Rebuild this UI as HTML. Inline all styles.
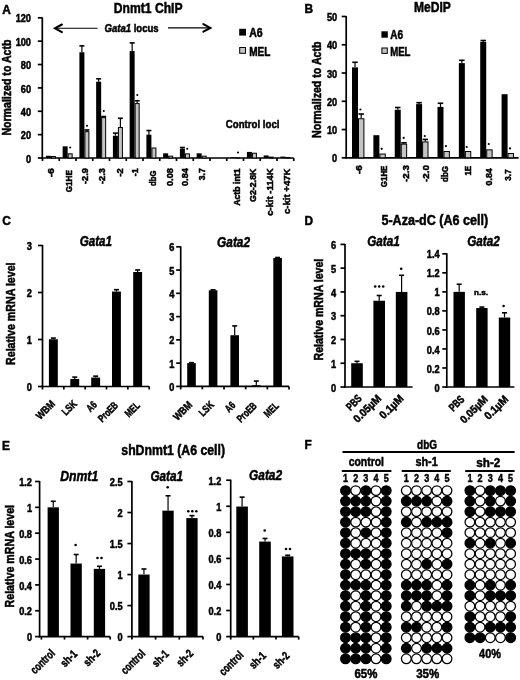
<!DOCTYPE html>
<html><head><meta charset="utf-8"><style>
html,body{margin:0;padding:0;background:#fff;}
body{width:520px;height:680px;overflow:hidden;}
svg{display:block;}
text{font-family:"Liberation Sans",sans-serif;font-weight:bold;stroke:#000;stroke-width:0.5px;}
svg{filter:grayscale(1);}
</style></head><body>
<svg width="520" height="680" viewBox="0 0 520 680">
<rect width="520" height="680" fill="#fff"/>
<text x="2.30" y="13.80" font-size="12.5" text-anchor="start" textLength="8.58" lengthAdjust="spacingAndGlyphs" style="" fill="#000">A</text>
<text x="304.60" y="12.70" font-size="12.5" text-anchor="start" textLength="8.58" lengthAdjust="spacingAndGlyphs" style="" fill="#000">B</text>
<text x="2.30" y="225.20" font-size="12.5" text-anchor="start" textLength="8.58" lengthAdjust="spacingAndGlyphs" style="" fill="#000">C</text>
<text x="304.60" y="225.00" font-size="12.5" text-anchor="start" textLength="8.58" lengthAdjust="spacingAndGlyphs" style="" fill="#000">D</text>
<text x="2.00" y="450.00" font-size="12.5" text-anchor="start" textLength="7.92" lengthAdjust="spacingAndGlyphs" style="" fill="#000">E</text>
<text x="304.60" y="449.20" font-size="12.5" text-anchor="start" textLength="7.25" lengthAdjust="spacingAndGlyphs" style="" fill="#000">F</text>
<line x1="42.30" y1="17.30" x2="42.30" y2="158.70" stroke="#000" stroke-width="1.7"/>
<line x1="37.80" y1="158.00" x2="42.30" y2="158.00" stroke="#000" stroke-width="1.7"/>
<text x="31.00" y="162.60" font-size="10.0" text-anchor="end" textLength="5.12" lengthAdjust="spacingAndGlyphs" style="" fill="#000">0</text>
<line x1="37.80" y1="134.63" x2="42.30" y2="134.63" stroke="#000" stroke-width="1.7"/>
<text x="31.00" y="139.23" font-size="10.0" text-anchor="end" textLength="10.23" lengthAdjust="spacingAndGlyphs" style="" fill="#000">20</text>
<line x1="37.80" y1="111.27" x2="42.30" y2="111.27" stroke="#000" stroke-width="1.7"/>
<text x="31.00" y="115.87" font-size="10.0" text-anchor="end" textLength="10.23" lengthAdjust="spacingAndGlyphs" style="" fill="#000">40</text>
<line x1="37.80" y1="87.90" x2="42.30" y2="87.90" stroke="#000" stroke-width="1.7"/>
<text x="31.00" y="92.50" font-size="10.0" text-anchor="end" textLength="10.23" lengthAdjust="spacingAndGlyphs" style="" fill="#000">60</text>
<line x1="37.80" y1="64.53" x2="42.30" y2="64.53" stroke="#000" stroke-width="1.7"/>
<text x="31.00" y="69.13" font-size="10.0" text-anchor="end" textLength="10.23" lengthAdjust="spacingAndGlyphs" style="" fill="#000">80</text>
<line x1="37.80" y1="41.17" x2="42.30" y2="41.17" stroke="#000" stroke-width="1.7"/>
<text x="31.00" y="45.77" font-size="10.0" text-anchor="end" textLength="15.35" lengthAdjust="spacingAndGlyphs" style="" fill="#000">100</text>
<line x1="37.80" y1="17.80" x2="42.30" y2="17.80" stroke="#000" stroke-width="1.7"/>
<text x="31.00" y="22.40" font-size="10.0" text-anchor="end" textLength="15.35" lengthAdjust="spacingAndGlyphs" style="" fill="#000">120</text>
<line x1="41.60" y1="158.00" x2="293.80" y2="158.00" stroke="#000" stroke-width="1.7"/>
<line x1="42.50" y1="158.00" x2="42.50" y2="161.00" stroke="#000" stroke-width="1.7"/>
<line x1="59.25" y1="158.00" x2="59.25" y2="161.00" stroke="#000" stroke-width="1.7"/>
<line x1="76.00" y1="158.00" x2="76.00" y2="161.00" stroke="#000" stroke-width="1.7"/>
<line x1="92.75" y1="158.00" x2="92.75" y2="161.00" stroke="#000" stroke-width="1.7"/>
<line x1="109.50" y1="158.00" x2="109.50" y2="161.00" stroke="#000" stroke-width="1.7"/>
<line x1="126.25" y1="158.00" x2="126.25" y2="161.00" stroke="#000" stroke-width="1.7"/>
<line x1="143.00" y1="158.00" x2="143.00" y2="161.00" stroke="#000" stroke-width="1.7"/>
<line x1="159.75" y1="158.00" x2="159.75" y2="161.00" stroke="#000" stroke-width="1.7"/>
<line x1="176.50" y1="158.00" x2="176.50" y2="161.00" stroke="#000" stroke-width="1.7"/>
<line x1="193.25" y1="158.00" x2="193.25" y2="161.00" stroke="#000" stroke-width="1.7"/>
<line x1="210.00" y1="158.00" x2="210.00" y2="161.00" stroke="#000" stroke-width="1.7"/>
<line x1="226.75" y1="158.00" x2="226.75" y2="161.00" stroke="#000" stroke-width="1.7"/>
<line x1="243.50" y1="158.00" x2="243.50" y2="161.00" stroke="#000" stroke-width="1.7"/>
<line x1="260.25" y1="158.00" x2="260.25" y2="161.00" stroke="#000" stroke-width="1.7"/>
<line x1="277.00" y1="158.00" x2="277.00" y2="161.00" stroke="#000" stroke-width="1.7"/>
<line x1="293.75" y1="158.00" x2="293.75" y2="161.00" stroke="#000" stroke-width="1.7"/>
<text transform="translate(11.00,87.60) rotate(-90)" x="0" y="0" font-size="12.0" text-anchor="middle" textLength="96.00" lengthAdjust="spacingAndGlyphs" style="" fill="#000">Normalized to Actb</text>
<text x="113.80" y="12.50" font-size="14" text-anchor="start" textLength="68.70" lengthAdjust="spacingAndGlyphs" style="" fill="#000">Dnmt1 ChIP</text>
<line x1="55.50" y1="28.30" x2="97.50" y2="28.30" stroke="#000" stroke-width="1.1"/>
<polyline points="61.9,24.5 55.0,28.3 61.9,32.1" fill="none" stroke="#000" stroke-width="2.1" stroke-linecap="round"/>
<line x1="168.00" y1="27.90" x2="209.80" y2="27.90" stroke="#000" stroke-width="1.3"/>
<polyline points="203.4,24.1 210.3,27.9 203.4,31.7" fill="none" stroke="#000" stroke-width="2.1" stroke-linecap="round"/>
<text x="104.50" y="32.30" font-size="11.5" text-anchor="start" textLength="26.70" lengthAdjust="spacingAndGlyphs" style="font-style:italic;" fill="#000">Gata1</text>
<text x="133.70" y="32.30" font-size="11.5" text-anchor="start" textLength="25.00" lengthAdjust="spacingAndGlyphs" style="" fill="#000">locus</text>
<rect x="239.20" y="28.80" width="6.80" height="6.80" fill="#000"/>
<rect x="239.70" y="47.50" width="5.80" height="5.80" fill="#c4c4c4" stroke="#000" stroke-width="1.0"/>
<text x="249.20" y="37.30" font-size="12" text-anchor="start" textLength="13.50" lengthAdjust="spacingAndGlyphs" style="" fill="#000">A6</text>
<text x="249.20" y="55.60" font-size="12" text-anchor="start" textLength="21.20" lengthAdjust="spacingAndGlyphs" style="" fill="#000">MEL</text>
<text x="225.80" y="128.00" font-size="11.5" text-anchor="start" textLength="53.70" lengthAdjust="spacingAndGlyphs" style="" fill="#000">Control loci</text>
<rect x="45.90" y="155.78" width="5.00" height="2.22" fill="#000"/>
<rect x="51.40" y="156.51" width="4.00" height="1.49" fill="#c4c4c4" stroke="#000" stroke-width="1.0"/>
<text transform="translate(54.17,168.20) rotate(-90)" x="0" y="0" font-size="9.5" text-anchor="end" textLength="9.00" lengthAdjust="spacingAndGlyphs" style="" fill="#000">-6</text>
<rect x="62.65" y="146.32" width="5.00" height="11.68" fill="#000"/>
<rect x="68.15" y="153.83" width="4.00" height="4.17" fill="#c4c4c4" stroke="#000" stroke-width="1.0"/>
<circle cx="70.20" cy="147.50" r="1.05" fill="#000"/>
<text transform="translate(71.62,170.20) rotate(-90)" x="0" y="0" font-size="9.5" text-anchor="end" textLength="22.00" lengthAdjust="spacingAndGlyphs" style="" fill="#000">G1HE</text>
<rect x="79.40" y="52.27" width="5.00" height="105.73" fill="#000"/>
<rect x="84.90" y="131.63" width="4.00" height="26.37" fill="#c4c4c4" stroke="#000" stroke-width="1.0"/>
<line x1="81.90" y1="52.27" x2="81.90" y2="45.84" stroke="#000" stroke-width="1.2"/>
<line x1="79.40" y1="45.84" x2="84.40" y2="45.84" stroke="#000" stroke-width="1.6"/>
<line x1="86.90" y1="131.13" x2="86.90" y2="129.96" stroke="#000" stroke-width="1.2"/>
<line x1="84.40" y1="129.96" x2="89.40" y2="129.96" stroke="#000" stroke-width="1.6"/>
<circle cx="87.00" cy="125.80" r="1.05" fill="#000"/>
<text transform="translate(87.67,168.20) rotate(-90)" x="0" y="0" font-size="9.5" text-anchor="end" textLength="15.80" lengthAdjust="spacingAndGlyphs" style="" fill="#000">-2.9</text>
<rect x="96.15" y="81.71" width="5.00" height="76.29" fill="#000"/>
<rect x="101.65" y="117.61" width="4.00" height="40.39" fill="#c4c4c4" stroke="#000" stroke-width="1.0"/>
<line x1="98.65" y1="81.71" x2="98.65" y2="78.79" stroke="#000" stroke-width="1.2"/>
<line x1="96.15" y1="78.79" x2="101.15" y2="78.79" stroke="#000" stroke-width="1.6"/>
<line x1="103.65" y1="117.11" x2="103.65" y2="116.52" stroke="#000" stroke-width="1.2"/>
<line x1="101.15" y1="116.52" x2="106.15" y2="116.52" stroke="#000" stroke-width="1.6"/>
<circle cx="103.80" cy="111.00" r="1.05" fill="#000"/>
<text transform="translate(105.42,168.20) rotate(-90)" x="0" y="0" font-size="9.5" text-anchor="end" textLength="15.80" lengthAdjust="spacingAndGlyphs" style="" fill="#000">-2.3</text>
<rect x="112.90" y="135.80" width="5.00" height="22.20" fill="#000"/>
<rect x="118.40" y="127.54" width="4.00" height="30.46" fill="#c4c4c4" stroke="#000" stroke-width="1.0"/>
<line x1="115.40" y1="135.80" x2="115.40" y2="133.11" stroke="#000" stroke-width="1.2"/>
<line x1="112.90" y1="133.11" x2="117.90" y2="133.11" stroke="#000" stroke-width="1.6"/>
<line x1="120.40" y1="127.04" x2="120.40" y2="118.28" stroke="#000" stroke-width="1.2"/>
<line x1="117.90" y1="118.28" x2="122.90" y2="118.28" stroke="#000" stroke-width="1.6"/>
<text transform="translate(122.67,168.40) rotate(-90)" x="0" y="0" font-size="9.5" text-anchor="end" textLength="8.20" lengthAdjust="spacingAndGlyphs" style="" fill="#000">-2</text>
<rect x="129.65" y="51.10" width="5.00" height="106.90" fill="#000"/>
<rect x="135.15" y="103.59" width="4.00" height="54.41" fill="#c4c4c4" stroke="#000" stroke-width="1.0"/>
<line x1="132.15" y1="51.10" x2="132.15" y2="42.92" stroke="#000" stroke-width="1.2"/>
<line x1="129.65" y1="42.92" x2="134.65" y2="42.92" stroke="#000" stroke-width="1.6"/>
<line x1="137.15" y1="103.09" x2="137.15" y2="100.75" stroke="#000" stroke-width="1.2"/>
<line x1="134.65" y1="100.75" x2="139.65" y2="100.75" stroke="#000" stroke-width="1.6"/>
<circle cx="137.30" cy="95.00" r="1.05" fill="#000"/>
<text transform="translate(137.93,168.20) rotate(-90)" x="0" y="0" font-size="9.5" text-anchor="end" textLength="8.00" lengthAdjust="spacingAndGlyphs" style="" fill="#000">-1</text>
<rect x="146.40" y="134.63" width="5.00" height="23.37" fill="#000"/>
<rect x="151.90" y="147.99" width="4.00" height="10.01" fill="#c4c4c4" stroke="#000" stroke-width="1.0"/>
<line x1="148.90" y1="134.63" x2="148.90" y2="130.54" stroke="#000" stroke-width="1.2"/>
<line x1="146.40" y1="130.54" x2="151.40" y2="130.54" stroke="#000" stroke-width="1.6"/>
<text transform="translate(155.68,170.60) rotate(-90)" x="0" y="0" font-size="9.5" text-anchor="end" textLength="15.40" lengthAdjust="spacingAndGlyphs" style="" fill="#000">dbG</text>
<rect x="163.15" y="153.33" width="5.00" height="4.67" fill="#000"/>
<rect x="168.65" y="156.16" width="4.00" height="1.84" fill="#c4c4c4" stroke="#000" stroke-width="1.0"/>
<text transform="translate(172.62,168.20) rotate(-90)" x="0" y="0" font-size="9.5" text-anchor="end" textLength="17.80" lengthAdjust="spacingAndGlyphs" style="" fill="#000">0.08</text>
<rect x="179.90" y="148.65" width="5.00" height="9.35" fill="#000"/>
<rect x="185.40" y="153.83" width="4.00" height="4.17" fill="#c4c4c4" stroke="#000" stroke-width="1.0"/>
<line x1="182.40" y1="148.65" x2="182.40" y2="147.49" stroke="#000" stroke-width="1.2"/>
<line x1="179.90" y1="147.49" x2="184.90" y2="147.49" stroke="#000" stroke-width="1.6"/>
<circle cx="187.20" cy="148.80" r="1.05" fill="#000"/>
<text transform="translate(188.18,168.20) rotate(-90)" x="0" y="0" font-size="9.5" text-anchor="end" textLength="17.80" lengthAdjust="spacingAndGlyphs" style="" fill="#000">0.84</text>
<rect x="196.65" y="153.33" width="5.00" height="4.67" fill="#000"/>
<rect x="202.15" y="156.16" width="4.00" height="1.84" fill="#c4c4c4" stroke="#000" stroke-width="1.0"/>
<text transform="translate(204.93,168.20) rotate(-90)" x="0" y="0" font-size="9.5" text-anchor="end" textLength="12.00" lengthAdjust="spacingAndGlyphs" style="" fill="#000">3.7</text>
<rect x="230.15" y="157.30" width="5.00" height="0.70" fill="#000"/>
<rect x="235.65" y="157.90" width="4.00" height="0.10" fill="#c4c4c4" stroke="#000" stroke-width="1.0"/>
<circle cx="238.00" cy="152.50" r="1.05" fill="#000"/>
<text transform="translate(240.12,168.50) rotate(-90)" x="0" y="0" font-size="9.5" text-anchor="end" textLength="37.30" lengthAdjust="spacingAndGlyphs" style="" fill="#000">Actb int1</text>
<rect x="246.90" y="151.92" width="5.00" height="6.08" fill="#000"/>
<rect x="252.40" y="153.24" width="4.00" height="4.76" fill="#c4c4c4" stroke="#000" stroke-width="1.0"/>
<text transform="translate(256.18,168.50) rotate(-90)" x="0" y="0" font-size="9.5" text-anchor="end" textLength="33.50" lengthAdjust="spacingAndGlyphs" style="" fill="#000">G2-2.8K</text>
<rect x="263.65" y="155.43" width="5.00" height="2.57" fill="#000"/>
<rect x="269.15" y="157.10" width="4.00" height="0.90" fill="#c4c4c4" stroke="#000" stroke-width="1.0"/>
<text transform="translate(272.93,168.50) rotate(-90)" x="0" y="0" font-size="9.5" text-anchor="end" textLength="47.30" lengthAdjust="spacingAndGlyphs" style="" fill="#000">c-kit -114K</text>
<rect x="280.40" y="156.60" width="5.00" height="1.40" fill="#000"/>
<rect x="285.90" y="157.57" width="4.00" height="0.43" fill="#c4c4c4" stroke="#000" stroke-width="1.0"/>
<text transform="translate(289.68,168.50) rotate(-90)" x="0" y="0" font-size="9.5" text-anchor="end" textLength="45.50" lengthAdjust="spacingAndGlyphs" style="" fill="#000">c-kit +47K</text>
<line x1="346.20" y1="16.00" x2="346.20" y2="158.50" stroke="#000" stroke-width="1.7"/>
<line x1="341.70" y1="157.80" x2="346.20" y2="157.80" stroke="#000" stroke-width="1.7"/>
<text x="337.20" y="162.40" font-size="10.0" text-anchor="end" textLength="5.12" lengthAdjust="spacingAndGlyphs" style="" fill="#000">0</text>
<line x1="341.70" y1="129.54" x2="346.20" y2="129.54" stroke="#000" stroke-width="1.7"/>
<text x="337.20" y="134.14" font-size="10.0" text-anchor="end" textLength="10.23" lengthAdjust="spacingAndGlyphs" style="" fill="#000">10</text>
<line x1="341.70" y1="101.28" x2="346.20" y2="101.28" stroke="#000" stroke-width="1.7"/>
<text x="337.20" y="105.88" font-size="10.0" text-anchor="end" textLength="10.23" lengthAdjust="spacingAndGlyphs" style="" fill="#000">20</text>
<line x1="341.70" y1="73.02" x2="346.20" y2="73.02" stroke="#000" stroke-width="1.7"/>
<text x="337.20" y="77.62" font-size="10.0" text-anchor="end" textLength="10.23" lengthAdjust="spacingAndGlyphs" style="" fill="#000">30</text>
<line x1="341.70" y1="44.76" x2="346.20" y2="44.76" stroke="#000" stroke-width="1.7"/>
<text x="337.20" y="49.36" font-size="10.0" text-anchor="end" textLength="10.23" lengthAdjust="spacingAndGlyphs" style="" fill="#000">40</text>
<line x1="341.70" y1="16.50" x2="346.20" y2="16.50" stroke="#000" stroke-width="1.7"/>
<text x="337.20" y="21.10" font-size="10.0" text-anchor="end" textLength="10.23" lengthAdjust="spacingAndGlyphs" style="" fill="#000">50</text>
<line x1="345.50" y1="157.80" x2="518.60" y2="157.80" stroke="#000" stroke-width="1.7"/>
<text transform="translate(321.40,89.70) rotate(-90)" x="0" y="0" font-size="12.0" text-anchor="middle" textLength="96.50" lengthAdjust="spacingAndGlyphs" style="" fill="#000">Normalized to Actb</text>
<text x="414.10" y="12.00" font-size="14" text-anchor="start" textLength="36.80" lengthAdjust="spacingAndGlyphs" style="" fill="#000">MeDIP</text>
<rect x="381.40" y="31.30" width="6.40" height="6.40" fill="#000"/>
<rect x="381.90" y="48.00" width="5.40" height="5.40" fill="#c4c4c4" stroke="#000" stroke-width="1.0"/>
<text x="390.20" y="39.00" font-size="12" text-anchor="start" textLength="12.80" lengthAdjust="spacingAndGlyphs" style="" fill="#000">A6</text>
<text x="390.20" y="55.60" font-size="12" text-anchor="start" textLength="20.30" lengthAdjust="spacingAndGlyphs" style="" fill="#000">MEL</text>
<rect x="352.00" y="67.37" width="6.00" height="90.43" fill="#000"/>
<rect x="358.50" y="118.74" width="5.40" height="39.06" fill="#c4c4c4" stroke="#000" stroke-width="1.0"/>
<line x1="355.00" y1="67.37" x2="355.00" y2="62.28" stroke="#000" stroke-width="1.2"/>
<line x1="352.25" y1="62.28" x2="357.75" y2="62.28" stroke="#000" stroke-width="1.6"/>
<line x1="361.20" y1="118.24" x2="361.20" y2="114.00" stroke="#000" stroke-width="1.2"/>
<line x1="358.45" y1="114.00" x2="363.95" y2="114.00" stroke="#000" stroke-width="1.6"/>
<circle cx="360.40" cy="109.50" r="1.1" fill="#000"/>
<text transform="translate(362.30,165.20) rotate(-90)" x="0" y="0" font-size="9.5" text-anchor="end" textLength="9.00" lengthAdjust="spacingAndGlyphs" style="" fill="#000">-6</text>
<rect x="373.37" y="135.19" width="6.00" height="22.61" fill="#000"/>
<rect x="379.87" y="154.06" width="5.40" height="3.74" fill="#c4c4c4" stroke="#000" stroke-width="1.0"/>
<circle cx="381.70" cy="148.80" r="1.1" fill="#000"/>
<text transform="translate(387.20,165.60) rotate(-90)" x="0" y="0" font-size="9.5" text-anchor="end" textLength="21.60" lengthAdjust="spacingAndGlyphs" style="" fill="#000">G1HE</text>
<rect x="394.74" y="109.76" width="6.00" height="48.04" fill="#000"/>
<rect x="401.24" y="144.17" width="5.40" height="13.63" fill="#c4c4c4" stroke="#000" stroke-width="1.0"/>
<line x1="397.74" y1="109.76" x2="397.74" y2="107.50" stroke="#000" stroke-width="1.2"/>
<line x1="394.99" y1="107.50" x2="400.49" y2="107.50" stroke="#000" stroke-width="1.6"/>
<line x1="403.94" y1="143.67" x2="403.94" y2="142.82" stroke="#000" stroke-width="1.2"/>
<line x1="401.19" y1="142.82" x2="406.69" y2="142.82" stroke="#000" stroke-width="1.6"/>
<circle cx="403.70" cy="137.90" r="1.1" fill="#000"/>
<text transform="translate(408.80,165.20) rotate(-90)" x="0" y="0" font-size="9.5" text-anchor="end" textLength="16.80" lengthAdjust="spacingAndGlyphs" style="" fill="#000">-2.3</text>
<rect x="416.11" y="104.11" width="6.00" height="53.69" fill="#000"/>
<rect x="422.61" y="141.91" width="5.40" height="15.89" fill="#c4c4c4" stroke="#000" stroke-width="1.0"/>
<line x1="419.11" y1="104.11" x2="419.11" y2="102.69" stroke="#000" stroke-width="1.2"/>
<line x1="416.36" y1="102.69" x2="421.86" y2="102.69" stroke="#000" stroke-width="1.6"/>
<line x1="425.31" y1="141.41" x2="425.31" y2="139.43" stroke="#000" stroke-width="1.2"/>
<line x1="422.56" y1="139.43" x2="428.06" y2="139.43" stroke="#000" stroke-width="1.6"/>
<circle cx="424.80" cy="136.00" r="1.1" fill="#000"/>
<text transform="translate(429.20,165.20) rotate(-90)" x="0" y="0" font-size="9.5" text-anchor="end" textLength="16.80" lengthAdjust="spacingAndGlyphs" style="" fill="#000">-2.0</text>
<rect x="437.48" y="106.93" width="6.00" height="50.87" fill="#000"/>
<rect x="443.98" y="151.52" width="5.40" height="6.28" fill="#c4c4c4" stroke="#000" stroke-width="1.0"/>
<line x1="440.48" y1="106.93" x2="440.48" y2="103.26" stroke="#000" stroke-width="1.2"/>
<line x1="437.73" y1="103.26" x2="443.23" y2="103.26" stroke="#000" stroke-width="1.6"/>
<circle cx="445.90" cy="146.10" r="1.1" fill="#000"/>
<text transform="translate(447.90,165.90) rotate(-90)" x="0" y="0" font-size="9.5" text-anchor="end" textLength="16.10" lengthAdjust="spacingAndGlyphs" style="" fill="#000">dbG</text>
<rect x="458.85" y="63.13" width="6.00" height="94.67" fill="#000"/>
<rect x="465.35" y="151.52" width="5.40" height="6.28" fill="#c4c4c4" stroke="#000" stroke-width="1.0"/>
<line x1="461.85" y1="63.13" x2="461.85" y2="60.30" stroke="#000" stroke-width="1.2"/>
<line x1="459.10" y1="60.30" x2="464.60" y2="60.30" stroke="#000" stroke-width="1.6"/>
<circle cx="466.70" cy="147.00" r="1.1" fill="#000"/>
<text transform="translate(471.20,165.90) rotate(-90)" x="0" y="0" font-size="9.5" text-anchor="end" textLength="9.70" lengthAdjust="spacingAndGlyphs" style="" fill="#000">1E</text>
<rect x="480.22" y="41.93" width="6.00" height="115.87" fill="#000"/>
<rect x="486.72" y="149.82" width="5.40" height="7.98" fill="#c4c4c4" stroke="#000" stroke-width="1.0"/>
<line x1="483.22" y1="41.93" x2="483.22" y2="40.52" stroke="#000" stroke-width="1.2"/>
<line x1="480.47" y1="40.52" x2="485.97" y2="40.52" stroke="#000" stroke-width="1.6"/>
<circle cx="488.80" cy="144.00" r="1.1" fill="#000"/>
<text transform="translate(491.70,168.20) rotate(-90)" x="0" y="0" font-size="9.5" text-anchor="end" textLength="17.30" lengthAdjust="spacingAndGlyphs" style="" fill="#000">0.84</text>
<rect x="501.59" y="94.22" width="6.00" height="63.59" fill="#000"/>
<rect x="508.09" y="153.50" width="5.40" height="4.30" fill="#c4c4c4" stroke="#000" stroke-width="1.0"/>
<circle cx="510.00" cy="148.40" r="1.1" fill="#000"/>
<text transform="translate(511.00,169.40) rotate(-90)" x="0" y="0" font-size="9.5" text-anchor="end" textLength="11.40" lengthAdjust="spacingAndGlyphs" style="" fill="#000">3.7</text>
<line x1="42.50" y1="245.00" x2="42.50" y2="387.20" stroke="#000" stroke-width="1.7"/>
<line x1="38.00" y1="386.50" x2="42.50" y2="386.50" stroke="#000" stroke-width="1.7"/>
<text x="31.80" y="391.10" font-size="10.0" text-anchor="end" textLength="5.12" lengthAdjust="spacingAndGlyphs" style="" fill="#000">0</text>
<line x1="38.00" y1="339.50" x2="42.50" y2="339.50" stroke="#000" stroke-width="1.7"/>
<text x="31.80" y="344.10" font-size="10.0" text-anchor="end" textLength="5.12" lengthAdjust="spacingAndGlyphs" style="" fill="#000">1</text>
<line x1="38.00" y1="292.50" x2="42.50" y2="292.50" stroke="#000" stroke-width="1.7"/>
<text x="31.80" y="297.10" font-size="10.0" text-anchor="end" textLength="5.12" lengthAdjust="spacingAndGlyphs" style="" fill="#000">2</text>
<line x1="38.00" y1="245.50" x2="42.50" y2="245.50" stroke="#000" stroke-width="1.7"/>
<text x="31.80" y="250.10" font-size="10.0" text-anchor="end" textLength="5.12" lengthAdjust="spacingAndGlyphs" style="" fill="#000">3</text>
<line x1="41.80" y1="386.50" x2="149.20" y2="386.50" stroke="#000" stroke-width="1.7"/>
<line x1="42.50" y1="386.50" x2="42.50" y2="389.50" stroke="#000" stroke-width="1.7"/>
<line x1="63.84" y1="386.50" x2="63.84" y2="389.50" stroke="#000" stroke-width="1.7"/>
<line x1="85.18" y1="386.50" x2="85.18" y2="389.50" stroke="#000" stroke-width="1.7"/>
<line x1="106.52" y1="386.50" x2="106.52" y2="389.50" stroke="#000" stroke-width="1.7"/>
<line x1="127.86" y1="386.50" x2="127.86" y2="389.50" stroke="#000" stroke-width="1.7"/>
<line x1="149.20" y1="386.50" x2="149.20" y2="389.50" stroke="#000" stroke-width="1.7"/>
<rect x="48.90" y="339.26" width="8.90" height="47.24" fill="#000"/>
<line x1="53.35" y1="339.26" x2="53.35" y2="338.09" stroke="#000" stroke-width="1.2"/>
<line x1="50.85" y1="338.09" x2="55.85" y2="338.09" stroke="#000" stroke-width="1.6"/>
<rect x="70.30" y="378.98" width="8.90" height="7.52" fill="#000"/>
<line x1="74.75" y1="378.98" x2="74.75" y2="377.10" stroke="#000" stroke-width="1.2"/>
<line x1="72.25" y1="377.10" x2="77.25" y2="377.10" stroke="#000" stroke-width="1.6"/>
<rect x="91.20" y="377.57" width="8.90" height="8.93" fill="#000"/>
<line x1="95.65" y1="377.57" x2="95.65" y2="376.16" stroke="#000" stroke-width="1.2"/>
<line x1="93.15" y1="376.16" x2="98.15" y2="376.16" stroke="#000" stroke-width="1.6"/>
<rect x="112.00" y="291.56" width="8.90" height="94.94" fill="#000"/>
<line x1="116.45" y1="291.56" x2="116.45" y2="289.68" stroke="#000" stroke-width="1.2"/>
<line x1="113.95" y1="289.68" x2="118.95" y2="289.68" stroke="#000" stroke-width="1.6"/>
<rect x="133.20" y="272.01" width="8.90" height="114.49" fill="#000"/>
<line x1="137.65" y1="272.01" x2="137.65" y2="269.94" stroke="#000" stroke-width="1.2"/>
<line x1="135.15" y1="269.94" x2="140.15" y2="269.94" stroke="#000" stroke-width="1.6"/>
<text transform="translate(55.80,404.50) rotate(-45)" x="0" y="0" font-size="10.5" text-anchor="end" textLength="22.00" lengthAdjust="spacingAndGlyphs" style="" fill="#000">WBM</text>
<text transform="translate(77.50,404.70) rotate(-45)" x="0" y="0" font-size="10.5" text-anchor="end" textLength="16.10" lengthAdjust="spacingAndGlyphs" style="" fill="#000">LSK</text>
<text transform="translate(97.50,405.50) rotate(-45)" x="0" y="0" font-size="10.5" text-anchor="end" textLength="10.00" lengthAdjust="spacingAndGlyphs" style="" fill="#000">A6</text>
<text transform="translate(118.75,406.20) rotate(-45)" x="0" y="0" font-size="10.5" text-anchor="end" textLength="23.30" lengthAdjust="spacingAndGlyphs" style="" fill="#000">ProEB</text>
<text transform="translate(140.50,406.20) rotate(-45)" x="0" y="0" font-size="10.5" text-anchor="end" textLength="16.20" lengthAdjust="spacingAndGlyphs" style="" fill="#000">MEL</text>
<text transform="translate(15.00,313.70) rotate(-90)" x="0" y="0" font-size="12.0" text-anchor="middle" textLength="102.50" lengthAdjust="spacingAndGlyphs" style="" fill="#000">Relative mRNA level</text>
<text x="79.70" y="245.80" font-size="14.5" text-anchor="start" textLength="32.30" lengthAdjust="spacingAndGlyphs" style="font-style:italic;" fill="#000">Gata1</text>
<line x1="180.70" y1="246.30" x2="180.70" y2="387.10" stroke="#000" stroke-width="1.7"/>
<line x1="176.20" y1="386.40" x2="180.70" y2="386.40" stroke="#000" stroke-width="1.7"/>
<text x="174.30" y="391.00" font-size="10.0" text-anchor="end" textLength="5.12" lengthAdjust="spacingAndGlyphs" style="" fill="#000">0</text>
<line x1="176.20" y1="363.13" x2="180.70" y2="363.13" stroke="#000" stroke-width="1.7"/>
<text x="174.30" y="367.73" font-size="10.0" text-anchor="end" textLength="5.12" lengthAdjust="spacingAndGlyphs" style="" fill="#000">1</text>
<line x1="176.20" y1="339.87" x2="180.70" y2="339.87" stroke="#000" stroke-width="1.7"/>
<text x="174.30" y="344.47" font-size="10.0" text-anchor="end" textLength="5.12" lengthAdjust="spacingAndGlyphs" style="" fill="#000">2</text>
<line x1="176.20" y1="316.60" x2="180.70" y2="316.60" stroke="#000" stroke-width="1.7"/>
<text x="174.30" y="321.20" font-size="10.0" text-anchor="end" textLength="5.12" lengthAdjust="spacingAndGlyphs" style="" fill="#000">3</text>
<line x1="176.20" y1="293.33" x2="180.70" y2="293.33" stroke="#000" stroke-width="1.7"/>
<text x="174.30" y="297.93" font-size="10.0" text-anchor="end" textLength="5.12" lengthAdjust="spacingAndGlyphs" style="" fill="#000">4</text>
<line x1="176.20" y1="270.07" x2="180.70" y2="270.07" stroke="#000" stroke-width="1.7"/>
<text x="174.30" y="274.67" font-size="10.0" text-anchor="end" textLength="5.12" lengthAdjust="spacingAndGlyphs" style="" fill="#000">5</text>
<line x1="176.20" y1="246.80" x2="180.70" y2="246.80" stroke="#000" stroke-width="1.7"/>
<text x="174.30" y="251.40" font-size="10.0" text-anchor="end" textLength="5.12" lengthAdjust="spacingAndGlyphs" style="" fill="#000">6</text>
<line x1="180.00" y1="386.40" x2="289.00" y2="386.40" stroke="#000" stroke-width="1.7"/>
<line x1="180.70" y1="386.40" x2="180.70" y2="389.40" stroke="#000" stroke-width="1.7"/>
<line x1="202.36" y1="386.40" x2="202.36" y2="389.40" stroke="#000" stroke-width="1.7"/>
<line x1="224.02" y1="386.40" x2="224.02" y2="389.40" stroke="#000" stroke-width="1.7"/>
<line x1="245.68" y1="386.40" x2="245.68" y2="389.40" stroke="#000" stroke-width="1.7"/>
<line x1="267.34" y1="386.40" x2="267.34" y2="389.40" stroke="#000" stroke-width="1.7"/>
<line x1="289.00" y1="386.40" x2="289.00" y2="389.40" stroke="#000" stroke-width="1.7"/>
<rect x="187.20" y="363.13" width="8.60" height="23.27" fill="#000"/>
<line x1="191.50" y1="363.13" x2="191.50" y2="362.67" stroke="#000" stroke-width="1.2"/>
<line x1="189.00" y1="362.67" x2="194.00" y2="362.67" stroke="#000" stroke-width="1.6"/>
<rect x="208.80" y="290.31" width="8.60" height="96.09" fill="#000"/>
<line x1="213.10" y1="290.31" x2="213.10" y2="289.84" stroke="#000" stroke-width="1.2"/>
<line x1="210.60" y1="289.84" x2="215.60" y2="289.84" stroke="#000" stroke-width="1.6"/>
<rect x="230.40" y="335.21" width="8.60" height="51.19" fill="#000"/>
<line x1="234.70" y1="335.21" x2="234.70" y2="325.91" stroke="#000" stroke-width="1.2"/>
<line x1="232.20" y1="325.91" x2="237.20" y2="325.91" stroke="#000" stroke-width="1.6"/>
<rect x="252.00" y="385.24" width="8.60" height="1.16" fill="#000"/>
<line x1="256.30" y1="385.24" x2="256.30" y2="381.05" stroke="#000" stroke-width="1.2"/>
<line x1="253.80" y1="381.05" x2="258.80" y2="381.05" stroke="#000" stroke-width="1.6"/>
<rect x="273.30" y="257.97" width="8.60" height="128.43" fill="#000"/>
<line x1="277.60" y1="257.97" x2="277.60" y2="257.50" stroke="#000" stroke-width="1.2"/>
<line x1="275.10" y1="257.50" x2="280.10" y2="257.50" stroke="#000" stroke-width="1.6"/>
<text transform="translate(193.00,405.50) rotate(-45)" x="0" y="0" font-size="10.5" text-anchor="end" textLength="22.00" lengthAdjust="spacingAndGlyphs" style="" fill="#000">WBM</text>
<text transform="translate(214.50,405.50) rotate(-45)" x="0" y="0" font-size="10.5" text-anchor="end" textLength="16.10" lengthAdjust="spacingAndGlyphs" style="" fill="#000">LSK</text>
<text transform="translate(236.00,406.00) rotate(-45)" x="0" y="0" font-size="10.5" text-anchor="end" textLength="10.00" lengthAdjust="spacingAndGlyphs" style="" fill="#000">A6</text>
<text transform="translate(257.50,406.50) rotate(-45)" x="0" y="0" font-size="10.5" text-anchor="end" textLength="23.30" lengthAdjust="spacingAndGlyphs" style="" fill="#000">ProEB</text>
<text transform="translate(279.50,406.50) rotate(-45)" x="0" y="0" font-size="10.5" text-anchor="end" textLength="16.20" lengthAdjust="spacingAndGlyphs" style="" fill="#000">MEL</text>
<text x="217.10" y="247.30" font-size="14.5" text-anchor="start" textLength="32.90" lengthAdjust="spacingAndGlyphs" style="font-style:italic;" fill="#000">Gata2</text>
<text x="381.40" y="224.50" font-size="14" text-anchor="start" textLength="106.80" lengthAdjust="spacingAndGlyphs" style="" fill="#000">5-Aza-dC (A6 cell)</text>
<line x1="345.00" y1="243.90" x2="345.00" y2="387.70" stroke="#000" stroke-width="1.7"/>
<line x1="340.50" y1="387.00" x2="345.00" y2="387.00" stroke="#000" stroke-width="1.7"/>
<text x="336.20" y="391.60" font-size="10.0" text-anchor="end" textLength="5.12" lengthAdjust="spacingAndGlyphs" style="" fill="#000">0</text>
<line x1="340.50" y1="363.23" x2="345.00" y2="363.23" stroke="#000" stroke-width="1.7"/>
<text x="336.20" y="367.83" font-size="10.0" text-anchor="end" textLength="5.12" lengthAdjust="spacingAndGlyphs" style="" fill="#000">1</text>
<line x1="340.50" y1="339.47" x2="345.00" y2="339.47" stroke="#000" stroke-width="1.7"/>
<text x="336.20" y="344.07" font-size="10.0" text-anchor="end" textLength="5.12" lengthAdjust="spacingAndGlyphs" style="" fill="#000">2</text>
<line x1="340.50" y1="315.70" x2="345.00" y2="315.70" stroke="#000" stroke-width="1.7"/>
<text x="336.20" y="320.30" font-size="10.0" text-anchor="end" textLength="5.12" lengthAdjust="spacingAndGlyphs" style="" fill="#000">3</text>
<line x1="340.50" y1="291.93" x2="345.00" y2="291.93" stroke="#000" stroke-width="1.7"/>
<text x="336.20" y="296.53" font-size="10.0" text-anchor="end" textLength="5.12" lengthAdjust="spacingAndGlyphs" style="" fill="#000">4</text>
<line x1="340.50" y1="268.17" x2="345.00" y2="268.17" stroke="#000" stroke-width="1.7"/>
<text x="336.20" y="272.77" font-size="10.0" text-anchor="end" textLength="5.12" lengthAdjust="spacingAndGlyphs" style="" fill="#000">5</text>
<line x1="340.50" y1="244.40" x2="345.00" y2="244.40" stroke="#000" stroke-width="1.7"/>
<text x="336.20" y="249.00" font-size="10.0" text-anchor="end" textLength="5.12" lengthAdjust="spacingAndGlyphs" style="" fill="#000">6</text>
<line x1="344.30" y1="387.00" x2="412.60" y2="387.00" stroke="#000" stroke-width="1.7"/>
<rect x="351.20" y="363.23" width="11.60" height="23.77" fill="#000"/>
<line x1="357.00" y1="363.23" x2="357.00" y2="361.33" stroke="#000" stroke-width="1.2"/>
<line x1="354.50" y1="361.33" x2="359.50" y2="361.33" stroke="#000" stroke-width="1.6"/>
<rect x="373.40" y="300.73" width="11.60" height="86.27" fill="#000"/>
<line x1="379.20" y1="300.73" x2="379.20" y2="295.50" stroke="#000" stroke-width="1.2"/>
<line x1="376.70" y1="295.50" x2="381.70" y2="295.50" stroke="#000" stroke-width="1.6"/>
<rect x="395.80" y="291.93" width="11.60" height="95.07" fill="#000"/>
<line x1="401.60" y1="291.93" x2="401.60" y2="275.30" stroke="#000" stroke-width="1.2"/>
<line x1="399.10" y1="275.30" x2="404.10" y2="275.30" stroke="#000" stroke-width="1.6"/>
<text transform="translate(362.50,399.20) rotate(-45)" x="0" y="0" font-size="11" text-anchor="end" textLength="17.00" lengthAdjust="spacingAndGlyphs" style="" fill="#000">PBS</text>
<text transform="translate(381.90,399.20) rotate(-45)" x="0" y="0" font-size="11" text-anchor="end" textLength="34.00" lengthAdjust="spacingAndGlyphs" style="" fill="#000">0.05µM</text>
<text transform="translate(404.20,399.20) rotate(-45)" x="0" y="0" font-size="11" text-anchor="end" textLength="28.80" lengthAdjust="spacingAndGlyphs" style="" fill="#000">0.1µM</text>
<text transform="translate(322.80,309.60) rotate(-90)" x="0" y="0" font-size="12.0" text-anchor="middle" textLength="101.80" lengthAdjust="spacingAndGlyphs" style="" fill="#000">Relative mRNA level</text>
<text x="367.20" y="246.20" font-size="14.5" text-anchor="start" textLength="32.60" lengthAdjust="spacingAndGlyphs" style="font-style:italic;" fill="#000">Gata1</text>
<circle cx="375.20" cy="286.50" r="1.3" fill="#000"/>
<circle cx="379.20" cy="286.50" r="1.3" fill="#000"/>
<circle cx="383.20" cy="286.50" r="1.3" fill="#000"/>
<circle cx="401.20" cy="268.80" r="1.3" fill="#000"/>
<line x1="446.80" y1="253.30" x2="446.80" y2="387.70" stroke="#000" stroke-width="1.7"/>
<line x1="442.30" y1="387.00" x2="446.80" y2="387.00" stroke="#000" stroke-width="1.7"/>
<text x="439.60" y="391.60" font-size="10.0" text-anchor="end" textLength="5.12" lengthAdjust="spacingAndGlyphs" style="" fill="#000">0</text>
<line x1="442.30" y1="367.97" x2="446.80" y2="367.97" stroke="#000" stroke-width="1.7"/>
<text x="439.60" y="372.57" font-size="10.0" text-anchor="end" textLength="12.79" lengthAdjust="spacingAndGlyphs" style="" fill="#000">0.2</text>
<line x1="442.30" y1="348.94" x2="446.80" y2="348.94" stroke="#000" stroke-width="1.7"/>
<text x="439.60" y="353.54" font-size="10.0" text-anchor="end" textLength="12.79" lengthAdjust="spacingAndGlyphs" style="" fill="#000">0.4</text>
<line x1="442.30" y1="329.91" x2="446.80" y2="329.91" stroke="#000" stroke-width="1.7"/>
<text x="439.60" y="334.51" font-size="10.0" text-anchor="end" textLength="12.79" lengthAdjust="spacingAndGlyphs" style="" fill="#000">0.6</text>
<line x1="442.30" y1="310.89" x2="446.80" y2="310.89" stroke="#000" stroke-width="1.7"/>
<text x="439.60" y="315.49" font-size="10.0" text-anchor="end" textLength="12.79" lengthAdjust="spacingAndGlyphs" style="" fill="#000">0.8</text>
<line x1="442.30" y1="291.86" x2="446.80" y2="291.86" stroke="#000" stroke-width="1.7"/>
<text x="439.60" y="296.46" font-size="10.0" text-anchor="end" textLength="5.12" lengthAdjust="spacingAndGlyphs" style="" fill="#000">1</text>
<line x1="442.30" y1="272.83" x2="446.80" y2="272.83" stroke="#000" stroke-width="1.7"/>
<text x="439.60" y="277.43" font-size="10.0" text-anchor="end" textLength="12.79" lengthAdjust="spacingAndGlyphs" style="" fill="#000">1.2</text>
<line x1="442.30" y1="253.80" x2="446.80" y2="253.80" stroke="#000" stroke-width="1.7"/>
<text x="439.60" y="258.40" font-size="10.0" text-anchor="end" textLength="12.79" lengthAdjust="spacingAndGlyphs" style="" fill="#000">1.4</text>
<line x1="446.10" y1="387.00" x2="514.40" y2="387.00" stroke="#000" stroke-width="1.7"/>
<rect x="453.50" y="291.86" width="11.40" height="95.14" fill="#000"/>
<line x1="459.20" y1="291.86" x2="459.20" y2="284.25" stroke="#000" stroke-width="1.2"/>
<line x1="456.70" y1="284.25" x2="461.70" y2="284.25" stroke="#000" stroke-width="1.6"/>
<rect x="476.20" y="308.03" width="11.40" height="78.97" fill="#000"/>
<line x1="481.90" y1="308.03" x2="481.90" y2="307.08" stroke="#000" stroke-width="1.2"/>
<line x1="479.40" y1="307.08" x2="484.40" y2="307.08" stroke="#000" stroke-width="1.6"/>
<rect x="498.80" y="317.55" width="11.40" height="69.45" fill="#000"/>
<line x1="504.50" y1="317.55" x2="504.50" y2="312.79" stroke="#000" stroke-width="1.2"/>
<line x1="502.00" y1="312.79" x2="507.00" y2="312.79" stroke="#000" stroke-width="1.6"/>
<text transform="translate(465.20,400.00) rotate(-45)" x="0" y="0" font-size="11" text-anchor="end" textLength="17.00" lengthAdjust="spacingAndGlyphs" style="" fill="#000">PBS</text>
<text transform="translate(488.50,400.00) rotate(-45)" x="0" y="0" font-size="11" text-anchor="end" textLength="34.00" lengthAdjust="spacingAndGlyphs" style="" fill="#000">0.05µM</text>
<text transform="translate(509.00,400.00) rotate(-45)" x="0" y="0" font-size="11" text-anchor="end" textLength="28.80" lengthAdjust="spacingAndGlyphs" style="" fill="#000">0.1µM</text>
<text x="467.20" y="246.20" font-size="14.5" text-anchor="start" textLength="32.60" lengthAdjust="spacingAndGlyphs" style="font-style:italic;" fill="#000">Gata2</text>
<text x="481.00" y="295.30" font-size="8" text-anchor="middle" textLength="14.00" lengthAdjust="spacingAndGlyphs" style="" fill="#000">n.s.</text>
<circle cx="503.60" cy="306.00" r="1.3" fill="#000"/>
<text x="121.30" y="455.00" font-size="14" text-anchor="start" textLength="103.70" lengthAdjust="spacingAndGlyphs" style="" fill="#000">shDnmt1 (A6 cell)</text>
<line x1="39.60" y1="481.00" x2="39.60" y2="637.30" stroke="#000" stroke-width="1.7"/>
<line x1="35.10" y1="636.60" x2="39.60" y2="636.60" stroke="#000" stroke-width="1.7"/>
<text x="32.00" y="641.20" font-size="10.0" text-anchor="end" textLength="5.12" lengthAdjust="spacingAndGlyphs" style="" fill="#000">0</text>
<line x1="35.10" y1="610.75" x2="39.60" y2="610.75" stroke="#000" stroke-width="1.7"/>
<text x="32.00" y="615.35" font-size="10.0" text-anchor="end" textLength="12.79" lengthAdjust="spacingAndGlyphs" style="" fill="#000">0.2</text>
<line x1="35.10" y1="584.90" x2="39.60" y2="584.90" stroke="#000" stroke-width="1.7"/>
<text x="32.00" y="589.50" font-size="10.0" text-anchor="end" textLength="12.79" lengthAdjust="spacingAndGlyphs" style="" fill="#000">0.4</text>
<line x1="35.10" y1="559.05" x2="39.60" y2="559.05" stroke="#000" stroke-width="1.7"/>
<text x="32.00" y="563.65" font-size="10.0" text-anchor="end" textLength="12.79" lengthAdjust="spacingAndGlyphs" style="" fill="#000">0.6</text>
<line x1="35.10" y1="533.20" x2="39.60" y2="533.20" stroke="#000" stroke-width="1.7"/>
<text x="32.00" y="537.80" font-size="10.0" text-anchor="end" textLength="12.79" lengthAdjust="spacingAndGlyphs" style="" fill="#000">0.8</text>
<line x1="35.10" y1="507.35" x2="39.60" y2="507.35" stroke="#000" stroke-width="1.7"/>
<text x="32.00" y="511.95" font-size="10.0" text-anchor="end" textLength="5.12" lengthAdjust="spacingAndGlyphs" style="" fill="#000">1</text>
<line x1="35.10" y1="481.50" x2="39.60" y2="481.50" stroke="#000" stroke-width="1.7"/>
<text x="32.00" y="486.10" font-size="10.0" text-anchor="end" textLength="12.79" lengthAdjust="spacingAndGlyphs" style="" fill="#000">1.2</text>
<line x1="38.90" y1="636.60" x2="110.20" y2="636.60" stroke="#000" stroke-width="1.7"/>
<line x1="41.40" y1="636.60" x2="41.40" y2="639.60" stroke="#000" stroke-width="1.7"/>
<line x1="64.50" y1="636.60" x2="64.50" y2="639.60" stroke="#000" stroke-width="1.7"/>
<line x1="87.60" y1="636.60" x2="87.60" y2="639.60" stroke="#000" stroke-width="1.7"/>
<line x1="110.20" y1="636.60" x2="110.20" y2="639.60" stroke="#000" stroke-width="1.7"/>
<rect x="47.60" y="507.35" width="11.30" height="129.25" fill="#000"/>
<line x1="53.25" y1="507.35" x2="53.25" y2="501.28" stroke="#000" stroke-width="1.2"/>
<line x1="50.75" y1="501.28" x2="55.75" y2="501.28" stroke="#000" stroke-width="1.6"/>
<rect x="70.50" y="563.57" width="11.30" height="73.03" fill="#000"/>
<line x1="76.15" y1="563.57" x2="76.15" y2="554.53" stroke="#000" stroke-width="1.2"/>
<line x1="73.65" y1="554.53" x2="78.65" y2="554.53" stroke="#000" stroke-width="1.6"/>
<rect x="93.80" y="568.87" width="11.30" height="67.73" fill="#000"/>
<line x1="99.45" y1="568.87" x2="99.45" y2="566.29" stroke="#000" stroke-width="1.2"/>
<line x1="96.95" y1="566.29" x2="101.95" y2="566.29" stroke="#000" stroke-width="1.6"/>
<text transform="translate(55.60,654.00) rotate(-45)" x="0" y="0" font-size="11.5" text-anchor="end" textLength="29.00" lengthAdjust="spacingAndGlyphs" style="" fill="#000">control</text>
<text transform="translate(78.00,654.60) rotate(-45)" x="0" y="0" font-size="11.5" text-anchor="end" textLength="18.50" lengthAdjust="spacingAndGlyphs" style="" fill="#000">sh-1</text>
<text transform="translate(101.00,654.00) rotate(-45)" x="0" y="0" font-size="11.5" text-anchor="end" textLength="18.50" lengthAdjust="spacingAndGlyphs" style="" fill="#000">sh-2</text>
<text transform="translate(14.00,556.20) rotate(-90)" x="0" y="0" font-size="12.0" text-anchor="middle" textLength="102.50" lengthAdjust="spacingAndGlyphs" style="" fill="#000">Relative mRNA level</text>
<text x="60.20" y="481.20" font-size="14.5" text-anchor="start" textLength="38.00" lengthAdjust="spacingAndGlyphs" style="font-style:italic;" fill="#000">Dnmt1</text>
<circle cx="75.60" cy="545.00" r="1.3" fill="#000"/>
<circle cx="97.50" cy="558.00" r="1.3" fill="#000"/>
<circle cx="101.50" cy="558.00" r="1.3" fill="#000"/>
<line x1="131.90" y1="481.00" x2="131.90" y2="637.30" stroke="#000" stroke-width="1.7"/>
<line x1="127.40" y1="636.60" x2="131.90" y2="636.60" stroke="#000" stroke-width="1.7"/>
<text x="122.60" y="641.20" font-size="10.0" text-anchor="end" textLength="5.12" lengthAdjust="spacingAndGlyphs" style="" fill="#000">0</text>
<line x1="127.40" y1="605.58" x2="131.90" y2="605.58" stroke="#000" stroke-width="1.7"/>
<text x="122.60" y="610.18" font-size="10.0" text-anchor="end" textLength="12.79" lengthAdjust="spacingAndGlyphs" style="" fill="#000">0.5</text>
<line x1="127.40" y1="574.56" x2="131.90" y2="574.56" stroke="#000" stroke-width="1.7"/>
<text x="122.60" y="579.16" font-size="10.0" text-anchor="end" textLength="5.12" lengthAdjust="spacingAndGlyphs" style="" fill="#000">1</text>
<line x1="127.40" y1="543.54" x2="131.90" y2="543.54" stroke="#000" stroke-width="1.7"/>
<text x="122.60" y="548.14" font-size="10.0" text-anchor="end" textLength="12.79" lengthAdjust="spacingAndGlyphs" style="" fill="#000">1.5</text>
<line x1="127.40" y1="512.52" x2="131.90" y2="512.52" stroke="#000" stroke-width="1.7"/>
<text x="122.60" y="517.12" font-size="10.0" text-anchor="end" textLength="5.12" lengthAdjust="spacingAndGlyphs" style="" fill="#000">2</text>
<line x1="127.40" y1="481.50" x2="131.90" y2="481.50" stroke="#000" stroke-width="1.7"/>
<text x="122.60" y="486.10" font-size="10.0" text-anchor="end" textLength="12.79" lengthAdjust="spacingAndGlyphs" style="" fill="#000">2.5</text>
<line x1="131.20" y1="636.60" x2="203.00" y2="636.60" stroke="#000" stroke-width="1.7"/>
<line x1="131.90" y1="636.60" x2="131.90" y2="639.60" stroke="#000" stroke-width="1.7"/>
<line x1="155.60" y1="636.60" x2="155.60" y2="639.60" stroke="#000" stroke-width="1.7"/>
<line x1="179.30" y1="636.60" x2="179.30" y2="639.60" stroke="#000" stroke-width="1.7"/>
<line x1="203.00" y1="636.60" x2="203.00" y2="639.60" stroke="#000" stroke-width="1.7"/>
<rect x="138.30" y="574.56" width="11.30" height="62.04" fill="#000"/>
<line x1="143.95" y1="574.56" x2="143.95" y2="568.98" stroke="#000" stroke-width="1.2"/>
<line x1="141.45" y1="568.98" x2="146.45" y2="568.98" stroke="#000" stroke-width="1.6"/>
<rect x="162.40" y="510.66" width="11.30" height="125.94" fill="#000"/>
<line x1="168.05" y1="510.66" x2="168.05" y2="495.77" stroke="#000" stroke-width="1.2"/>
<line x1="165.55" y1="495.77" x2="170.55" y2="495.77" stroke="#000" stroke-width="1.6"/>
<rect x="186.30" y="518.10" width="11.30" height="118.50" fill="#000"/>
<line x1="191.95" y1="518.10" x2="191.95" y2="515.62" stroke="#000" stroke-width="1.2"/>
<line x1="189.45" y1="515.62" x2="194.45" y2="515.62" stroke="#000" stroke-width="1.6"/>
<text transform="translate(146.00,654.40) rotate(-45)" x="0" y="0" font-size="11.5" text-anchor="end" textLength="29.00" lengthAdjust="spacingAndGlyphs" style="" fill="#000">control</text>
<text transform="translate(169.60,654.60) rotate(-45)" x="0" y="0" font-size="11.5" text-anchor="end" textLength="18.50" lengthAdjust="spacingAndGlyphs" style="" fill="#000">sh-1</text>
<text transform="translate(194.00,654.20) rotate(-45)" x="0" y="0" font-size="11.5" text-anchor="end" textLength="18.50" lengthAdjust="spacingAndGlyphs" style="" fill="#000">sh-2</text>
<text x="150.40" y="481.20" font-size="14.5" text-anchor="start" textLength="32.60" lengthAdjust="spacingAndGlyphs" style="font-style:italic;" fill="#000">Gata1</text>
<circle cx="167.70" cy="487.20" r="1.3" fill="#000"/>
<circle cx="188.30" cy="511.30" r="1.3" fill="#000"/>
<circle cx="192.30" cy="511.30" r="1.3" fill="#000"/>
<circle cx="196.30" cy="511.30" r="1.3" fill="#000"/>
<line x1="230.70" y1="479.70" x2="230.70" y2="637.30" stroke="#000" stroke-width="1.7"/>
<line x1="226.20" y1="636.60" x2="230.70" y2="636.60" stroke="#000" stroke-width="1.7"/>
<text x="221.30" y="641.20" font-size="10.0" text-anchor="end" textLength="5.12" lengthAdjust="spacingAndGlyphs" style="" fill="#000">0</text>
<line x1="226.20" y1="610.53" x2="230.70" y2="610.53" stroke="#000" stroke-width="1.7"/>
<text x="221.30" y="615.13" font-size="10.0" text-anchor="end" textLength="12.79" lengthAdjust="spacingAndGlyphs" style="" fill="#000">0.2</text>
<line x1="226.20" y1="584.47" x2="230.70" y2="584.47" stroke="#000" stroke-width="1.7"/>
<text x="221.30" y="589.07" font-size="10.0" text-anchor="end" textLength="12.79" lengthAdjust="spacingAndGlyphs" style="" fill="#000">0.4</text>
<line x1="226.20" y1="558.40" x2="230.70" y2="558.40" stroke="#000" stroke-width="1.7"/>
<text x="221.30" y="563.00" font-size="10.0" text-anchor="end" textLength="12.79" lengthAdjust="spacingAndGlyphs" style="" fill="#000">0.6</text>
<line x1="226.20" y1="532.33" x2="230.70" y2="532.33" stroke="#000" stroke-width="1.7"/>
<text x="221.30" y="536.93" font-size="10.0" text-anchor="end" textLength="12.79" lengthAdjust="spacingAndGlyphs" style="" fill="#000">0.8</text>
<line x1="226.20" y1="506.27" x2="230.70" y2="506.27" stroke="#000" stroke-width="1.7"/>
<text x="221.30" y="510.87" font-size="10.0" text-anchor="end" textLength="5.12" lengthAdjust="spacingAndGlyphs" style="" fill="#000">1</text>
<line x1="226.20" y1="480.20" x2="230.70" y2="480.20" stroke="#000" stroke-width="1.7"/>
<text x="221.30" y="484.80" font-size="10.0" text-anchor="end" textLength="12.79" lengthAdjust="spacingAndGlyphs" style="" fill="#000">1.2</text>
<line x1="230.00" y1="636.60" x2="298.70" y2="636.60" stroke="#000" stroke-width="1.7"/>
<line x1="230.70" y1="636.60" x2="230.70" y2="639.60" stroke="#000" stroke-width="1.7"/>
<line x1="253.37" y1="636.60" x2="253.37" y2="639.60" stroke="#000" stroke-width="1.7"/>
<line x1="276.04" y1="636.60" x2="276.04" y2="639.60" stroke="#000" stroke-width="1.7"/>
<line x1="298.71" y1="636.60" x2="298.71" y2="639.60" stroke="#000" stroke-width="1.7"/>
<rect x="236.30" y="506.53" width="11.60" height="130.07" fill="#000"/>
<line x1="242.10" y1="506.53" x2="242.10" y2="497.14" stroke="#000" stroke-width="1.2"/>
<line x1="239.60" y1="497.14" x2="244.60" y2="497.14" stroke="#000" stroke-width="1.6"/>
<rect x="259.20" y="541.59" width="11.60" height="95.01" fill="#000"/>
<line x1="265.00" y1="541.59" x2="265.00" y2="538.46" stroke="#000" stroke-width="1.2"/>
<line x1="262.50" y1="538.46" x2="267.50" y2="538.46" stroke="#000" stroke-width="1.6"/>
<rect x="281.90" y="556.45" width="11.60" height="80.15" fill="#000"/>
<line x1="287.70" y1="556.45" x2="287.70" y2="555.27" stroke="#000" stroke-width="1.2"/>
<line x1="285.20" y1="555.27" x2="290.20" y2="555.27" stroke="#000" stroke-width="1.6"/>
<text transform="translate(244.20,655.70) rotate(-45)" x="0" y="0" font-size="11.5" text-anchor="end" textLength="29.00" lengthAdjust="spacingAndGlyphs" style="" fill="#000">control</text>
<text transform="translate(266.80,656.50) rotate(-45)" x="0" y="0" font-size="11.5" text-anchor="end" textLength="18.50" lengthAdjust="spacingAndGlyphs" style="" fill="#000">sh-1</text>
<text transform="translate(290.30,656.50) rotate(-45)" x="0" y="0" font-size="11.5" text-anchor="end" textLength="18.50" lengthAdjust="spacingAndGlyphs" style="" fill="#000">sh-2</text>
<text x="249.00" y="480.20" font-size="14.5" text-anchor="start" textLength="33.10" lengthAdjust="spacingAndGlyphs" style="font-style:italic;" fill="#000">Gata2</text>
<circle cx="264.70" cy="530.50" r="1.3" fill="#000"/>
<circle cx="286.00" cy="549.00" r="1.3" fill="#000"/>
<circle cx="290.00" cy="549.00" r="1.3" fill="#000"/>
<text x="417.10" y="449.00" font-size="12.5" text-anchor="start" textLength="20.00" lengthAdjust="spacingAndGlyphs" style="" fill="#000">dbG</text>
<line x1="342.50" y1="452.10" x2="514.60" y2="452.10" stroke="#000" stroke-width="2.0"/>
<text x="348.70" y="465.50" font-size="12" text-anchor="start" textLength="35.30" lengthAdjust="spacingAndGlyphs" style="" fill="#000">control</text>
<text x="415.40" y="465.90" font-size="12" text-anchor="start" textLength="22.40" lengthAdjust="spacingAndGlyphs" style="" fill="#000">sh-1</text>
<text x="476.30" y="466.80" font-size="12" text-anchor="start" textLength="24.00" lengthAdjust="spacingAndGlyphs" style="" fill="#000">sh-2</text>
<line x1="341.80" y1="471.00" x2="391.40" y2="471.00" stroke="#000" stroke-width="2.0"/>
<line x1="401.70" y1="471.00" x2="450.80" y2="471.00" stroke="#000" stroke-width="2.0"/>
<line x1="465.20" y1="471.00" x2="514.60" y2="471.00" stroke="#000" stroke-width="2.0"/>
<text x="345.50" y="482.20" font-size="11.0" text-anchor="middle" textLength="5.02" lengthAdjust="spacingAndGlyphs" style="" fill="#000">1</text>
<text x="355.68" y="482.20" font-size="11.0" text-anchor="middle" textLength="5.02" lengthAdjust="spacingAndGlyphs" style="" fill="#000">2</text>
<text x="365.86" y="482.20" font-size="11.0" text-anchor="middle" textLength="5.02" lengthAdjust="spacingAndGlyphs" style="" fill="#000">3</text>
<text x="376.04" y="482.20" font-size="11.0" text-anchor="middle" textLength="5.02" lengthAdjust="spacingAndGlyphs" style="" fill="#000">4</text>
<text x="386.22" y="482.20" font-size="11.0" text-anchor="middle" textLength="5.02" lengthAdjust="spacingAndGlyphs" style="" fill="#000">5</text>
<circle cx="345.50" cy="490.60" r="4.85" fill="#000" stroke="#000" stroke-width="1.25"/>
<circle cx="355.68" cy="490.60" r="4.85" fill="#fff" stroke="#000" stroke-width="1.25"/>
<circle cx="365.86" cy="490.60" r="4.85" fill="#000" stroke="#000" stroke-width="1.25"/>
<circle cx="376.04" cy="490.60" r="4.85" fill="#fff" stroke="#000" stroke-width="1.25"/>
<circle cx="386.22" cy="490.60" r="4.85" fill="#000" stroke="#000" stroke-width="1.25"/>
<circle cx="345.50" cy="501.11" r="4.85" fill="#000" stroke="#000" stroke-width="1.25"/>
<circle cx="355.68" cy="501.11" r="4.85" fill="#000" stroke="#000" stroke-width="1.25"/>
<circle cx="365.86" cy="501.11" r="4.85" fill="#000" stroke="#000" stroke-width="1.25"/>
<circle cx="376.04" cy="501.11" r="4.85" fill="#fff" stroke="#000" stroke-width="1.25"/>
<circle cx="386.22" cy="501.11" r="4.85" fill="#000" stroke="#000" stroke-width="1.25"/>
<circle cx="345.50" cy="511.62" r="4.85" fill="#000" stroke="#000" stroke-width="1.25"/>
<circle cx="355.68" cy="511.62" r="4.85" fill="#000" stroke="#000" stroke-width="1.25"/>
<circle cx="365.86" cy="511.62" r="4.85" fill="#000" stroke="#000" stroke-width="1.25"/>
<circle cx="376.04" cy="511.62" r="4.85" fill="#fff" stroke="#000" stroke-width="1.25"/>
<circle cx="386.22" cy="511.62" r="4.85" fill="#000" stroke="#000" stroke-width="1.25"/>
<circle cx="345.50" cy="522.13" r="4.85" fill="#000" stroke="#000" stroke-width="1.25"/>
<circle cx="355.68" cy="522.13" r="4.85" fill="#fff" stroke="#000" stroke-width="1.25"/>
<circle cx="365.86" cy="522.13" r="4.85" fill="#fff" stroke="#000" stroke-width="1.25"/>
<circle cx="376.04" cy="522.13" r="4.85" fill="#fff" stroke="#000" stroke-width="1.25"/>
<circle cx="386.22" cy="522.13" r="4.85" fill="#000" stroke="#000" stroke-width="1.25"/>
<circle cx="345.50" cy="532.64" r="4.85" fill="#000" stroke="#000" stroke-width="1.25"/>
<circle cx="355.68" cy="532.64" r="4.85" fill="#fff" stroke="#000" stroke-width="1.25"/>
<circle cx="365.86" cy="532.64" r="4.85" fill="#000" stroke="#000" stroke-width="1.25"/>
<circle cx="376.04" cy="532.64" r="4.85" fill="#fff" stroke="#000" stroke-width="1.25"/>
<circle cx="386.22" cy="532.64" r="4.85" fill="#000" stroke="#000" stroke-width="1.25"/>
<circle cx="345.50" cy="543.15" r="4.85" fill="#000" stroke="#000" stroke-width="1.25"/>
<circle cx="355.68" cy="543.15" r="4.85" fill="#fff" stroke="#000" stroke-width="1.25"/>
<circle cx="365.86" cy="543.15" r="4.85" fill="#fff" stroke="#000" stroke-width="1.25"/>
<circle cx="376.04" cy="543.15" r="4.85" fill="#fff" stroke="#000" stroke-width="1.25"/>
<circle cx="386.22" cy="543.15" r="4.85" fill="#000" stroke="#000" stroke-width="1.25"/>
<circle cx="345.50" cy="553.66" r="4.85" fill="#000" stroke="#000" stroke-width="1.25"/>
<circle cx="355.68" cy="553.66" r="4.85" fill="#000" stroke="#000" stroke-width="1.25"/>
<circle cx="365.86" cy="553.66" r="4.85" fill="#000" stroke="#000" stroke-width="1.25"/>
<circle cx="376.04" cy="553.66" r="4.85" fill="#fff" stroke="#000" stroke-width="1.25"/>
<circle cx="386.22" cy="553.66" r="4.85" fill="#000" stroke="#000" stroke-width="1.25"/>
<circle cx="345.50" cy="564.17" r="4.85" fill="#000" stroke="#000" stroke-width="1.25"/>
<circle cx="355.68" cy="564.17" r="4.85" fill="#fff" stroke="#000" stroke-width="1.25"/>
<circle cx="365.86" cy="564.17" r="4.85" fill="#000" stroke="#000" stroke-width="1.25"/>
<circle cx="376.04" cy="564.17" r="4.85" fill="#fff" stroke="#000" stroke-width="1.25"/>
<circle cx="386.22" cy="564.17" r="4.85" fill="#000" stroke="#000" stroke-width="1.25"/>
<circle cx="345.50" cy="574.68" r="4.85" fill="#000" stroke="#000" stroke-width="1.25"/>
<circle cx="355.68" cy="574.68" r="4.85" fill="#fff" stroke="#000" stroke-width="1.25"/>
<circle cx="365.86" cy="574.68" r="4.85" fill="#fff" stroke="#000" stroke-width="1.25"/>
<circle cx="376.04" cy="574.68" r="4.85" fill="#fff" stroke="#000" stroke-width="1.25"/>
<circle cx="386.22" cy="574.68" r="4.85" fill="#000" stroke="#000" stroke-width="1.25"/>
<circle cx="345.50" cy="585.19" r="4.85" fill="#000" stroke="#000" stroke-width="1.25"/>
<circle cx="355.68" cy="585.19" r="4.85" fill="#000" stroke="#000" stroke-width="1.25"/>
<circle cx="365.86" cy="585.19" r="4.85" fill="#000" stroke="#000" stroke-width="1.25"/>
<circle cx="376.04" cy="585.19" r="4.85" fill="#fff" stroke="#000" stroke-width="1.25"/>
<circle cx="386.22" cy="585.19" r="4.85" fill="#000" stroke="#000" stroke-width="1.25"/>
<circle cx="345.50" cy="595.70" r="4.85" fill="#000" stroke="#000" stroke-width="1.25"/>
<circle cx="355.68" cy="595.70" r="4.85" fill="#fff" stroke="#000" stroke-width="1.25"/>
<circle cx="365.86" cy="595.70" r="4.85" fill="#000" stroke="#000" stroke-width="1.25"/>
<circle cx="376.04" cy="595.70" r="4.85" fill="#fff" stroke="#000" stroke-width="1.25"/>
<circle cx="386.22" cy="595.70" r="4.85" fill="#000" stroke="#000" stroke-width="1.25"/>
<circle cx="345.50" cy="606.21" r="4.85" fill="#000" stroke="#000" stroke-width="1.25"/>
<circle cx="355.68" cy="606.21" r="4.85" fill="#fff" stroke="#000" stroke-width="1.25"/>
<circle cx="365.86" cy="606.21" r="4.85" fill="#000" stroke="#000" stroke-width="1.25"/>
<circle cx="376.04" cy="606.21" r="4.85" fill="#fff" stroke="#000" stroke-width="1.25"/>
<circle cx="386.22" cy="606.21" r="4.85" fill="#000" stroke="#000" stroke-width="1.25"/>
<circle cx="345.50" cy="616.72" r="4.85" fill="#000" stroke="#000" stroke-width="1.25"/>
<circle cx="355.68" cy="616.72" r="4.85" fill="#fff" stroke="#000" stroke-width="1.25"/>
<circle cx="365.86" cy="616.72" r="4.85" fill="#000" stroke="#000" stroke-width="1.25"/>
<circle cx="376.04" cy="616.72" r="4.85" fill="#fff" stroke="#000" stroke-width="1.25"/>
<circle cx="386.22" cy="616.72" r="4.85" fill="#000" stroke="#000" stroke-width="1.25"/>
<circle cx="345.50" cy="627.23" r="4.85" fill="#000" stroke="#000" stroke-width="1.25"/>
<circle cx="355.68" cy="627.23" r="4.85" fill="#fff" stroke="#000" stroke-width="1.25"/>
<circle cx="365.86" cy="627.23" r="4.85" fill="#000" stroke="#000" stroke-width="1.25"/>
<circle cx="376.04" cy="627.23" r="4.85" fill="#fff" stroke="#000" stroke-width="1.25"/>
<circle cx="386.22" cy="627.23" r="4.85" fill="#000" stroke="#000" stroke-width="1.25"/>
<circle cx="345.50" cy="637.74" r="4.85" fill="#000" stroke="#000" stroke-width="1.25"/>
<circle cx="355.68" cy="637.74" r="4.85" fill="#000" stroke="#000" stroke-width="1.25"/>
<circle cx="365.86" cy="637.74" r="4.85" fill="#000" stroke="#000" stroke-width="1.25"/>
<circle cx="376.04" cy="637.74" r="4.85" fill="#fff" stroke="#000" stroke-width="1.25"/>
<circle cx="386.22" cy="637.74" r="4.85" fill="#000" stroke="#000" stroke-width="1.25"/>
<circle cx="345.50" cy="648.25" r="4.85" fill="#000" stroke="#000" stroke-width="1.25"/>
<circle cx="355.68" cy="648.25" r="4.85" fill="#000" stroke="#000" stroke-width="1.25"/>
<circle cx="365.86" cy="648.25" r="4.85" fill="#000" stroke="#000" stroke-width="1.25"/>
<circle cx="376.04" cy="648.25" r="4.85" fill="#fff" stroke="#000" stroke-width="1.25"/>
<circle cx="386.22" cy="648.25" r="4.85" fill="#000" stroke="#000" stroke-width="1.25"/>
<circle cx="345.50" cy="658.76" r="4.85" fill="#000" stroke="#000" stroke-width="1.25"/>
<circle cx="355.68" cy="658.76" r="4.85" fill="#000" stroke="#000" stroke-width="1.25"/>
<circle cx="365.86" cy="658.76" r="4.85" fill="#000" stroke="#000" stroke-width="1.25"/>
<circle cx="376.04" cy="658.76" r="4.85" fill="#fff" stroke="#000" stroke-width="1.25"/>
<circle cx="386.22" cy="658.76" r="4.85" fill="#000" stroke="#000" stroke-width="1.25"/>
<text x="406.30" y="482.20" font-size="11.0" text-anchor="middle" textLength="5.02" lengthAdjust="spacingAndGlyphs" style="" fill="#000">1</text>
<text x="416.48" y="482.20" font-size="11.0" text-anchor="middle" textLength="5.02" lengthAdjust="spacingAndGlyphs" style="" fill="#000">2</text>
<text x="426.66" y="482.20" font-size="11.0" text-anchor="middle" textLength="5.02" lengthAdjust="spacingAndGlyphs" style="" fill="#000">3</text>
<text x="436.84" y="482.20" font-size="11.0" text-anchor="middle" textLength="5.02" lengthAdjust="spacingAndGlyphs" style="" fill="#000">4</text>
<text x="447.02" y="482.20" font-size="11.0" text-anchor="middle" textLength="5.02" lengthAdjust="spacingAndGlyphs" style="" fill="#000">5</text>
<circle cx="406.30" cy="490.60" r="4.85" fill="#fff" stroke="#000" stroke-width="1.25"/>
<circle cx="416.48" cy="490.60" r="4.85" fill="#fff" stroke="#000" stroke-width="1.25"/>
<circle cx="426.66" cy="490.60" r="4.85" fill="#fff" stroke="#000" stroke-width="1.25"/>
<circle cx="436.84" cy="490.60" r="4.85" fill="#fff" stroke="#000" stroke-width="1.25"/>
<circle cx="447.02" cy="490.60" r="4.85" fill="#fff" stroke="#000" stroke-width="1.25"/>
<circle cx="406.30" cy="501.11" r="4.85" fill="#000" stroke="#000" stroke-width="1.25"/>
<circle cx="416.48" cy="501.11" r="4.85" fill="#000" stroke="#000" stroke-width="1.25"/>
<circle cx="426.66" cy="501.11" r="4.85" fill="#000" stroke="#000" stroke-width="1.25"/>
<circle cx="436.84" cy="501.11" r="4.85" fill="#fff" stroke="#000" stroke-width="1.25"/>
<circle cx="447.02" cy="501.11" r="4.85" fill="#000" stroke="#000" stroke-width="1.25"/>
<circle cx="406.30" cy="511.62" r="4.85" fill="#fff" stroke="#000" stroke-width="1.25"/>
<circle cx="416.48" cy="511.62" r="4.85" fill="#fff" stroke="#000" stroke-width="1.25"/>
<circle cx="426.66" cy="511.62" r="4.85" fill="#fff" stroke="#000" stroke-width="1.25"/>
<circle cx="436.84" cy="511.62" r="4.85" fill="#fff" stroke="#000" stroke-width="1.25"/>
<circle cx="447.02" cy="511.62" r="4.85" fill="#fff" stroke="#000" stroke-width="1.25"/>
<circle cx="406.30" cy="522.13" r="4.85" fill="#000" stroke="#000" stroke-width="1.25"/>
<circle cx="416.48" cy="522.13" r="4.85" fill="#fff" stroke="#000" stroke-width="1.25"/>
<circle cx="426.66" cy="522.13" r="4.85" fill="#000" stroke="#000" stroke-width="1.25"/>
<circle cx="436.84" cy="522.13" r="4.85" fill="#000" stroke="#000" stroke-width="1.25"/>
<circle cx="447.02" cy="522.13" r="4.85" fill="#000" stroke="#000" stroke-width="1.25"/>
<circle cx="406.30" cy="532.64" r="4.85" fill="#fff" stroke="#000" stroke-width="1.25"/>
<circle cx="416.48" cy="532.64" r="4.85" fill="#fff" stroke="#000" stroke-width="1.25"/>
<circle cx="426.66" cy="532.64" r="4.85" fill="#fff" stroke="#000" stroke-width="1.25"/>
<circle cx="436.84" cy="532.64" r="4.85" fill="#fff" stroke="#000" stroke-width="1.25"/>
<circle cx="447.02" cy="532.64" r="4.85" fill="#000" stroke="#000" stroke-width="1.25"/>
<circle cx="406.30" cy="543.15" r="4.85" fill="#fff" stroke="#000" stroke-width="1.25"/>
<circle cx="416.48" cy="543.15" r="4.85" fill="#fff" stroke="#000" stroke-width="1.25"/>
<circle cx="426.66" cy="543.15" r="4.85" fill="#fff" stroke="#000" stroke-width="1.25"/>
<circle cx="436.84" cy="543.15" r="4.85" fill="#fff" stroke="#000" stroke-width="1.25"/>
<circle cx="447.02" cy="543.15" r="4.85" fill="#fff" stroke="#000" stroke-width="1.25"/>
<circle cx="406.30" cy="553.66" r="4.85" fill="#fff" stroke="#000" stroke-width="1.25"/>
<circle cx="416.48" cy="553.66" r="4.85" fill="#fff" stroke="#000" stroke-width="1.25"/>
<circle cx="426.66" cy="553.66" r="4.85" fill="#fff" stroke="#000" stroke-width="1.25"/>
<circle cx="436.84" cy="553.66" r="4.85" fill="#fff" stroke="#000" stroke-width="1.25"/>
<circle cx="447.02" cy="553.66" r="4.85" fill="#fff" stroke="#000" stroke-width="1.25"/>
<circle cx="406.30" cy="564.17" r="4.85" fill="#fff" stroke="#000" stroke-width="1.25"/>
<circle cx="416.48" cy="564.17" r="4.85" fill="#fff" stroke="#000" stroke-width="1.25"/>
<circle cx="426.66" cy="564.17" r="4.85" fill="#000" stroke="#000" stroke-width="1.25"/>
<circle cx="436.84" cy="564.17" r="4.85" fill="#fff" stroke="#000" stroke-width="1.25"/>
<circle cx="447.02" cy="564.17" r="4.85" fill="#000" stroke="#000" stroke-width="1.25"/>
<circle cx="406.30" cy="574.68" r="4.85" fill="#fff" stroke="#000" stroke-width="1.25"/>
<circle cx="416.48" cy="574.68" r="4.85" fill="#fff" stroke="#000" stroke-width="1.25"/>
<circle cx="426.66" cy="574.68" r="4.85" fill="#fff" stroke="#000" stroke-width="1.25"/>
<circle cx="436.84" cy="574.68" r="4.85" fill="#fff" stroke="#000" stroke-width="1.25"/>
<circle cx="447.02" cy="574.68" r="4.85" fill="#fff" stroke="#000" stroke-width="1.25"/>
<circle cx="406.30" cy="585.19" r="4.85" fill="#000" stroke="#000" stroke-width="1.25"/>
<circle cx="416.48" cy="585.19" r="4.85" fill="#000" stroke="#000" stroke-width="1.25"/>
<circle cx="426.66" cy="585.19" r="4.85" fill="#000" stroke="#000" stroke-width="1.25"/>
<circle cx="436.84" cy="585.19" r="4.85" fill="#fff" stroke="#000" stroke-width="1.25"/>
<circle cx="447.02" cy="585.19" r="4.85" fill="#000" stroke="#000" stroke-width="1.25"/>
<circle cx="406.30" cy="595.70" r="4.85" fill="#000" stroke="#000" stroke-width="1.25"/>
<circle cx="416.48" cy="595.70" r="4.85" fill="#000" stroke="#000" stroke-width="1.25"/>
<circle cx="426.66" cy="595.70" r="4.85" fill="#000" stroke="#000" stroke-width="1.25"/>
<circle cx="436.84" cy="595.70" r="4.85" fill="#fff" stroke="#000" stroke-width="1.25"/>
<circle cx="447.02" cy="595.70" r="4.85" fill="#000" stroke="#000" stroke-width="1.25"/>
<circle cx="406.30" cy="606.21" r="4.85" fill="#000" stroke="#000" stroke-width="1.25"/>
<circle cx="416.48" cy="606.21" r="4.85" fill="#fff" stroke="#000" stroke-width="1.25"/>
<circle cx="426.66" cy="606.21" r="4.85" fill="#000" stroke="#000" stroke-width="1.25"/>
<circle cx="436.84" cy="606.21" r="4.85" fill="#000" stroke="#000" stroke-width="1.25"/>
<circle cx="447.02" cy="606.21" r="4.85" fill="#000" stroke="#000" stroke-width="1.25"/>
<circle cx="406.30" cy="616.72" r="4.85" fill="#fff" stroke="#000" stroke-width="1.25"/>
<circle cx="416.48" cy="616.72" r="4.85" fill="#fff" stroke="#000" stroke-width="1.25"/>
<circle cx="426.66" cy="616.72" r="4.85" fill="#fff" stroke="#000" stroke-width="1.25"/>
<circle cx="436.84" cy="616.72" r="4.85" fill="#fff" stroke="#000" stroke-width="1.25"/>
<circle cx="447.02" cy="616.72" r="4.85" fill="#fff" stroke="#000" stroke-width="1.25"/>
<circle cx="406.30" cy="627.23" r="4.85" fill="#000" stroke="#000" stroke-width="1.25"/>
<circle cx="416.48" cy="627.23" r="4.85" fill="#000" stroke="#000" stroke-width="1.25"/>
<circle cx="426.66" cy="627.23" r="4.85" fill="#fff" stroke="#000" stroke-width="1.25"/>
<circle cx="436.84" cy="627.23" r="4.85" fill="#fff" stroke="#000" stroke-width="1.25"/>
<circle cx="447.02" cy="627.23" r="4.85" fill="#000" stroke="#000" stroke-width="1.25"/>
<circle cx="406.30" cy="637.74" r="4.85" fill="#fff" stroke="#000" stroke-width="1.25"/>
<circle cx="416.48" cy="637.74" r="4.85" fill="#fff" stroke="#000" stroke-width="1.25"/>
<circle cx="426.66" cy="637.74" r="4.85" fill="#fff" stroke="#000" stroke-width="1.25"/>
<circle cx="436.84" cy="637.74" r="4.85" fill="#fff" stroke="#000" stroke-width="1.25"/>
<circle cx="447.02" cy="637.74" r="4.85" fill="#fff" stroke="#000" stroke-width="1.25"/>
<circle cx="406.30" cy="648.25" r="4.85" fill="#000" stroke="#000" stroke-width="1.25"/>
<circle cx="416.48" cy="648.25" r="4.85" fill="#fff" stroke="#000" stroke-width="1.25"/>
<circle cx="426.66" cy="648.25" r="4.85" fill="#000" stroke="#000" stroke-width="1.25"/>
<circle cx="436.84" cy="648.25" r="4.85" fill="#000" stroke="#000" stroke-width="1.25"/>
<circle cx="447.02" cy="648.25" r="4.85" fill="#000" stroke="#000" stroke-width="1.25"/>
<circle cx="406.30" cy="658.76" r="4.85" fill="#fff" stroke="#000" stroke-width="1.25"/>
<circle cx="416.48" cy="658.76" r="4.85" fill="#fff" stroke="#000" stroke-width="1.25"/>
<circle cx="426.66" cy="658.76" r="4.85" fill="#fff" stroke="#000" stroke-width="1.25"/>
<circle cx="436.84" cy="658.76" r="4.85" fill="#fff" stroke="#000" stroke-width="1.25"/>
<circle cx="447.02" cy="658.76" r="4.85" fill="#fff" stroke="#000" stroke-width="1.25"/>
<text x="469.90" y="482.20" font-size="11.0" text-anchor="middle" textLength="5.02" lengthAdjust="spacingAndGlyphs" style="" fill="#000">1</text>
<text x="480.08" y="482.20" font-size="11.0" text-anchor="middle" textLength="5.02" lengthAdjust="spacingAndGlyphs" style="" fill="#000">2</text>
<text x="490.26" y="482.20" font-size="11.0" text-anchor="middle" textLength="5.02" lengthAdjust="spacingAndGlyphs" style="" fill="#000">3</text>
<text x="500.44" y="482.20" font-size="11.0" text-anchor="middle" textLength="5.02" lengthAdjust="spacingAndGlyphs" style="" fill="#000">4</text>
<text x="510.62" y="482.20" font-size="11.0" text-anchor="middle" textLength="5.02" lengthAdjust="spacingAndGlyphs" style="" fill="#000">5</text>
<circle cx="469.90" cy="490.60" r="4.85" fill="#000" stroke="#000" stroke-width="1.25"/>
<circle cx="480.08" cy="490.60" r="4.85" fill="#fff" stroke="#000" stroke-width="1.25"/>
<circle cx="490.26" cy="490.60" r="4.85" fill="#000" stroke="#000" stroke-width="1.25"/>
<circle cx="500.44" cy="490.60" r="4.85" fill="#000" stroke="#000" stroke-width="1.25"/>
<circle cx="510.62" cy="490.60" r="4.85" fill="#000" stroke="#000" stroke-width="1.25"/>
<circle cx="469.90" cy="501.11" r="4.85" fill="#000" stroke="#000" stroke-width="1.25"/>
<circle cx="480.08" cy="501.11" r="4.85" fill="#fff" stroke="#000" stroke-width="1.25"/>
<circle cx="490.26" cy="501.11" r="4.85" fill="#000" stroke="#000" stroke-width="1.25"/>
<circle cx="500.44" cy="501.11" r="4.85" fill="#fff" stroke="#000" stroke-width="1.25"/>
<circle cx="510.62" cy="501.11" r="4.85" fill="#000" stroke="#000" stroke-width="1.25"/>
<circle cx="469.90" cy="511.62" r="4.85" fill="#000" stroke="#000" stroke-width="1.25"/>
<circle cx="480.08" cy="511.62" r="4.85" fill="#fff" stroke="#000" stroke-width="1.25"/>
<circle cx="490.26" cy="511.62" r="4.85" fill="#000" stroke="#000" stroke-width="1.25"/>
<circle cx="500.44" cy="511.62" r="4.85" fill="#000" stroke="#000" stroke-width="1.25"/>
<circle cx="510.62" cy="511.62" r="4.85" fill="#000" stroke="#000" stroke-width="1.25"/>
<circle cx="469.90" cy="522.13" r="4.85" fill="#fff" stroke="#000" stroke-width="1.25"/>
<circle cx="480.08" cy="522.13" r="4.85" fill="#fff" stroke="#000" stroke-width="1.25"/>
<circle cx="490.26" cy="522.13" r="4.85" fill="#fff" stroke="#000" stroke-width="1.25"/>
<circle cx="500.44" cy="522.13" r="4.85" fill="#fff" stroke="#000" stroke-width="1.25"/>
<circle cx="510.62" cy="522.13" r="4.85" fill="#fff" stroke="#000" stroke-width="1.25"/>
<circle cx="469.90" cy="532.64" r="4.85" fill="#fff" stroke="#000" stroke-width="1.25"/>
<circle cx="480.08" cy="532.64" r="4.85" fill="#fff" stroke="#000" stroke-width="1.25"/>
<circle cx="490.26" cy="532.64" r="4.85" fill="#fff" stroke="#000" stroke-width="1.25"/>
<circle cx="500.44" cy="532.64" r="4.85" fill="#fff" stroke="#000" stroke-width="1.25"/>
<circle cx="510.62" cy="532.64" r="4.85" fill="#fff" stroke="#000" stroke-width="1.25"/>
<circle cx="469.90" cy="543.15" r="4.85" fill="#000" stroke="#000" stroke-width="1.25"/>
<circle cx="480.08" cy="543.15" r="4.85" fill="#fff" stroke="#000" stroke-width="1.25"/>
<circle cx="490.26" cy="543.15" r="4.85" fill="#000" stroke="#000" stroke-width="1.25"/>
<circle cx="500.44" cy="543.15" r="4.85" fill="#fff" stroke="#000" stroke-width="1.25"/>
<circle cx="510.62" cy="543.15" r="4.85" fill="#000" stroke="#000" stroke-width="1.25"/>
<circle cx="469.90" cy="553.66" r="4.85" fill="#fff" stroke="#000" stroke-width="1.25"/>
<circle cx="480.08" cy="553.66" r="4.85" fill="#fff" stroke="#000" stroke-width="1.25"/>
<circle cx="490.26" cy="553.66" r="4.85" fill="#fff" stroke="#000" stroke-width="1.25"/>
<circle cx="500.44" cy="553.66" r="4.85" fill="#fff" stroke="#000" stroke-width="1.25"/>
<circle cx="510.62" cy="553.66" r="4.85" fill="#fff" stroke="#000" stroke-width="1.25"/>
<circle cx="469.90" cy="564.17" r="4.85" fill="#fff" stroke="#000" stroke-width="1.25"/>
<circle cx="480.08" cy="564.17" r="4.85" fill="#fff" stroke="#000" stroke-width="1.25"/>
<circle cx="490.26" cy="564.17" r="4.85" fill="#fff" stroke="#000" stroke-width="1.25"/>
<circle cx="500.44" cy="564.17" r="4.85" fill="#fff" stroke="#000" stroke-width="1.25"/>
<circle cx="510.62" cy="564.17" r="4.85" fill="#fff" stroke="#000" stroke-width="1.25"/>
<circle cx="469.90" cy="574.68" r="4.85" fill="#fff" stroke="#000" stroke-width="1.25"/>
<circle cx="480.08" cy="574.68" r="4.85" fill="#fff" stroke="#000" stroke-width="1.25"/>
<circle cx="490.26" cy="574.68" r="4.85" fill="#fff" stroke="#000" stroke-width="1.25"/>
<circle cx="500.44" cy="574.68" r="4.85" fill="#fff" stroke="#000" stroke-width="1.25"/>
<circle cx="510.62" cy="574.68" r="4.85" fill="#fff" stroke="#000" stroke-width="1.25"/>
<circle cx="469.90" cy="585.19" r="4.85" fill="#000" stroke="#000" stroke-width="1.25"/>
<circle cx="480.08" cy="585.19" r="4.85" fill="#fff" stroke="#000" stroke-width="1.25"/>
<circle cx="490.26" cy="585.19" r="4.85" fill="#000" stroke="#000" stroke-width="1.25"/>
<circle cx="500.44" cy="585.19" r="4.85" fill="#fff" stroke="#000" stroke-width="1.25"/>
<circle cx="510.62" cy="585.19" r="4.85" fill="#000" stroke="#000" stroke-width="1.25"/>
<circle cx="469.90" cy="595.70" r="4.85" fill="#000" stroke="#000" stroke-width="1.25"/>
<circle cx="480.08" cy="595.70" r="4.85" fill="#fff" stroke="#000" stroke-width="1.25"/>
<circle cx="490.26" cy="595.70" r="4.85" fill="#000" stroke="#000" stroke-width="1.25"/>
<circle cx="500.44" cy="595.70" r="4.85" fill="#000" stroke="#000" stroke-width="1.25"/>
<circle cx="510.62" cy="595.70" r="4.85" fill="#000" stroke="#000" stroke-width="1.25"/>
<circle cx="469.90" cy="606.21" r="4.85" fill="#fff" stroke="#000" stroke-width="1.25"/>
<circle cx="480.08" cy="606.21" r="4.85" fill="#fff" stroke="#000" stroke-width="1.25"/>
<circle cx="490.26" cy="606.21" r="4.85" fill="#fff" stroke="#000" stroke-width="1.25"/>
<circle cx="500.44" cy="606.21" r="4.85" fill="#fff" stroke="#000" stroke-width="1.25"/>
<circle cx="510.62" cy="606.21" r="4.85" fill="#fff" stroke="#000" stroke-width="1.25"/>
<circle cx="469.90" cy="616.72" r="4.85" fill="#000" stroke="#000" stroke-width="1.25"/>
<circle cx="480.08" cy="616.72" r="4.85" fill="#fff" stroke="#000" stroke-width="1.25"/>
<circle cx="490.26" cy="616.72" r="4.85" fill="#fff" stroke="#000" stroke-width="1.25"/>
<circle cx="500.44" cy="616.72" r="4.85" fill="#fff" stroke="#000" stroke-width="1.25"/>
<circle cx="510.62" cy="616.72" r="4.85" fill="#000" stroke="#000" stroke-width="1.25"/>
<circle cx="469.90" cy="627.23" r="4.85" fill="#000" stroke="#000" stroke-width="1.25"/>
<circle cx="480.08" cy="627.23" r="4.85" fill="#fff" stroke="#000" stroke-width="1.25"/>
<circle cx="490.26" cy="627.23" r="4.85" fill="#000" stroke="#000" stroke-width="1.25"/>
<circle cx="500.44" cy="627.23" r="4.85" fill="#000" stroke="#000" stroke-width="1.25"/>
<circle cx="510.62" cy="627.23" r="4.85" fill="#000" stroke="#000" stroke-width="1.25"/>
<circle cx="469.90" cy="637.74" r="4.85" fill="#000" stroke="#000" stroke-width="1.25"/>
<circle cx="480.08" cy="637.74" r="4.85" fill="#000" stroke="#000" stroke-width="1.25"/>
<circle cx="490.26" cy="637.74" r="4.85" fill="#fff" stroke="#000" stroke-width="1.25"/>
<circle cx="500.44" cy="637.74" r="4.85" fill="#fff" stroke="#000" stroke-width="1.25"/>
<circle cx="510.62" cy="637.74" r="4.85" fill="#000" stroke="#000" stroke-width="1.25"/>
<text x="354.50" y="678.00" font-size="13" text-anchor="start" textLength="22.90" lengthAdjust="spacingAndGlyphs" style="" fill="#000">65%</text>
<text x="416.20" y="678.00" font-size="13" text-anchor="start" textLength="23.10" lengthAdjust="spacingAndGlyphs" style="" fill="#000">35%</text>
<text x="479.10" y="657.80" font-size="13" text-anchor="start" textLength="21.90" lengthAdjust="spacingAndGlyphs" style="" fill="#000">40%</text>
</svg>
</body></html>
